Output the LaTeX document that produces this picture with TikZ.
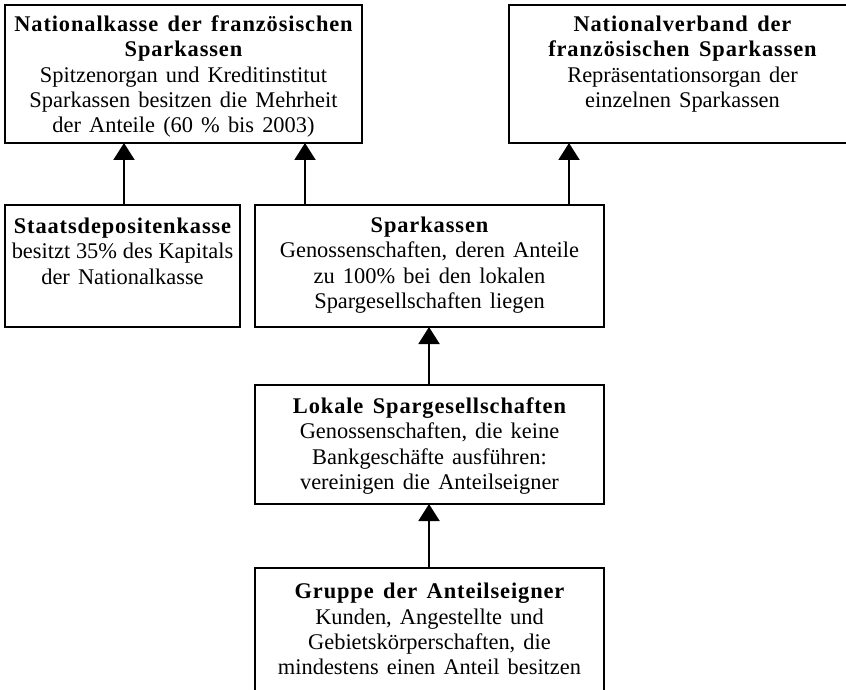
\documentclass[tikz,border=0pt]{standalone}
\usepackage{fontspec}
\setmainfont{Liberation Serif}[WordSpace=1.45]
\newfontfamily\ttlfont{Liberation Serif}[LetterSpace=4,WordSpace=1.45]
\usetikzlibrary{arrows.meta}
\tikzset{
  box/.style={draw=black, line width=1.4pt, rectangle, inner sep=0pt, outer sep=0pt},
  txt/.style={anchor=north, align=center, inner sep=0pt, font=\fontsize{22.4}{25.3}\selectfont},
  arr/.style={line width=2pt, -{Triangle[width=21pt,length=17pt]}}
}
\newcommand{\ttl}[1]{{\ttlfont\bfseries #1}}
\begin{document}
\begin{tikzpicture}[x=1pt,y=-1pt]
\useasboundingbox (0,0) rectangle (846,690);
\clip (0,0) rectangle (846,690);
\fill[white] (0,0) rectangle (846,690);
% boxes
\node[box, minimum width=357pt, minimum height=138pt] (b1) at (183.5,74) {};
\node[box, minimum width=347pt, minimum height=138pt] (b2) at (682.5,74) {};
\node[box, minimum width=235pt, minimum height=122pt] (b3) at (122.5,266) {};
\node[box, minimum width=349pt, minimum height=122pt] (b4) at (429.5,266) {};
\node[box, minimum width=349pt, minimum height=119pt] (b5) at (429.5,444.5) {};
\node[box, minimum width=349pt, minimum height=152pt] (b6) at (429.5,644) {};
% texts
\node[txt] (t1) at ([yshift=-8.5pt]b1.north) {\strut\ttl{Nationalkasse der französischen}\\ \ttl{Sparkassen}\\ Spitzenorgan und Kreditinstitut\\ Sparkassen besitzen die Mehrheit\\ der Anteile (60 \% bis 2003)};
\node[txt] (t2) at ([yshift=-8.5pt]b2.north) {\strut\ttl{Nationalverband der}\\ \ttl{französischen Sparkassen}\\ Repräsentationsorgan der\\ einzelnen Sparkassen};
\node[txt] (t3) at ([yshift=-10.5pt]b3.north) {\strut\ttl{Staatsdepositenkasse}\\ {\spaceskip=5.8pt besitzt 35\% des Kapitals}\\ der Nationalkasse};
\node[txt] (t4) at ([yshift=-9.5pt]b4.north) {\strut\ttl{Sparkassen}\\ Genossenschaften, deren Anteile\\ zu 100\% bei den lokalen\\ Spargesellschaften liegen};
\node[txt] (t5) at ([yshift=-10.5pt]b5.north) {\strut\ttl{Lokale Spargesellschaften}\\ Genossenschaften, die keine\\ Bankgeschäfte ausführen:\\ vereinigen die Anteilseigner};
\node[txt] (t6) at ([yshift=-13pt]b6.north) {\strut\ttl{Gruppe der Anteilseigner}\\ Kunden, Angestellte und\\ Gebietskörperschaften, die\\ mindestens einen Anteil besitzen};
% connector x positions
\coordinate (xa) at (124,0);
\coordinate (xb) at (305,0);
\coordinate (xc) at (569,0);
\coordinate (xd) at (429,0);
\draw[arr] (b3.north -| xa) -- (b1.south -| xa);
\draw[arr] (b4.north -| xb) -- (b1.south -| xb);
\draw[arr] (b4.north -| xc) -- (b2.south -| xc);
\draw[arr] (b5.north -| xd) -- (b4.south -| xd);
\draw[arr] (b6.north -| xd) -- (b5.south -| xd);
\end{tikzpicture}
\end{document}
